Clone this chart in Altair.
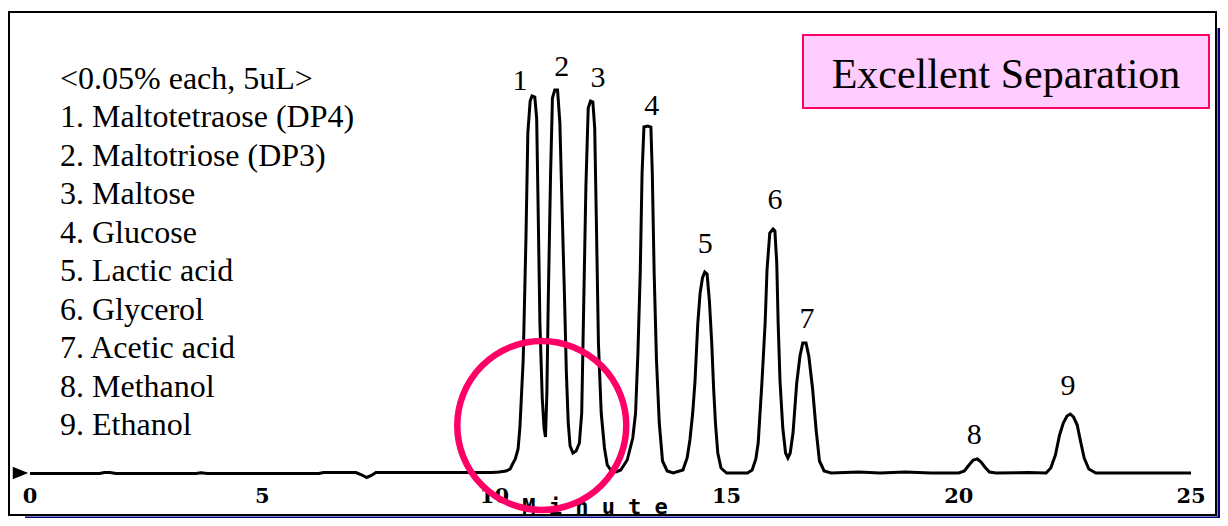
import altair as alt
import pandas as pd

# ---- chromatogram trace (minutes, signal in arbitrary units)
trace_time = [
    0.00, 1.50, 1.60, 1.72, 1.85, 3.58, 3.68, 3.82, 6.22, 6.32, 7.02, 7.15, 7.25, 7.35, 7.45,
    9.95, 10.10, 10.25, 10.34, 10.38,
    10.45, 10.51, 10.55, 10.62, 10.68, 10.72, 10.77, 10.81, 10.87, 10.91, 10.94, 10.98, 11.03, 11.07, 11.10,
    11.13, 11.16, 11.21, 11.25, 11.30, 11.36, 11.41, 11.46, 11.51, 11.55, 11.59, 11.63, 11.69, 11.76, 11.83,
    11.88, 11.92, 11.97, 12.02, 12.07, 12.12, 12.16, 12.20, 12.24, 12.30, 12.37, 12.43, 12.52, 12.62, 12.72,
    12.86, 12.98, 13.04, 13.09, 13.14, 13.18, 13.22, 13.30, 13.37, 13.40, 13.44, 13.49, 13.55, 13.62, 13.72, 13.85,
    14.06, 14.15, 14.21, 14.27, 14.32, 14.38, 14.43, 14.48, 14.53, 14.58, 14.63, 14.68, 14.72, 14.76, 14.81, 14.88, 15.00, 15.45,
    15.55, 15.63, 15.68, 15.76, 15.83, 15.87, 15.93, 16.00, 16.04, 16.08, 16.11, 16.15, 16.21, 16.27, 16.32, 16.37,
    16.43, 16.51, 16.58, 16.64, 16.71, 16.77, 16.85, 16.93, 17.00, 17.10, 17.25,
    17.85, 18.30, 18.85, 19.40, 20.00,
    20.12, 20.22, 20.31, 20.40, 20.48, 20.56, 20.66, 20.80, 21.50, 21.88,
    21.98, 22.08, 22.17, 22.25, 22.33, 22.40, 22.47, 22.55, 22.62, 22.70, 22.80, 22.95, 25.00,
]
trace_signal = [
    -0.5, -0.5, 0.5, 0.5, -0.5, -0.5, 0.3, -0.5, -0.5, 0.5, 0.5, -2.0, -4.5, -2.5, 0.5,
    0.5, 1.0, 2.0, 4.0, 8,
    14, 24, 46, 113, 236, 340, 372, 377, 376, 355, 270, 150, 75, 45, 36,
    80, 173, 300, 375, 383, 383, 350, 260, 175, 100, 50, 27, 20, 22, 30,
    60, 160, 286, 365, 372, 371, 345, 240, 130, 60, 25, 8, 2, 1, 3,
    13, 35, 60, 120, 200, 300, 346, 347, 346, 300, 200, 113, 50, 12, 2, 0,
    3, 15, 33, 60, 92, 150, 180, 195, 201, 199, 172, 130, 85, 50, 20, 5, 0, 0,
    3, 14, 30, 90, 150, 203, 240, 244, 242, 210, 150, 92, 45, 20, 15, 20,
    40, 90, 117, 130, 130, 117, 85, 42, 12, 2, 0,
    1, 0, 1, 0, 0,
    2, 8, 13, 14, 11, 6, 1, 0, 0.5, 0,
    5, 18, 38, 50, 57, 59, 56, 48, 32, 15, 4, 0, 0,
]

# ---- peak number annotations (anchor in data units)
peak_numbers = ["1", "2", "3", "4", "5", "6", "7", "8", "9"]
label_time = [10.55, 11.45, 12.23, 13.39, 14.54, 16.04, 16.73, 20.33, 22.35]
label_signal = [392, 406, 395, 367, 229, 273, 154, 38, 87]

tick_values = [0, 5, 10, 15, 20, 25]

legend_lines = [
    "<0.05% each, 5uL>",
    "1. Maltotetraose (DP4)",
    "2. Maltotriose (DP3)",
    "3. Maltose",
    "4. Glucose",
    "5. Lactic acid",
    "6. Glycerol",
    "7. Acetic acid",
    "8. Methanol",
    "9. Ethanol",
]
box_title = "Excellent Separation"
axis_title = "M i n u t e"

# highlighted region (circle) centre, data units
circle_time = [11.02]
circle_signal = [47.5]
# start-of-run marker
arrow_time = [-0.205]
arrow_signal = [0]

# plot area = the framed box; whole svg kept within 1212 x 510 so the page never overflows
W, H = 1207, 503
PX_PER_MIN = 46.44
X0 = 21          # pixel of t = 0 inside the box
Y0 = 461         # pixel of baseline inside the box
x_scale = alt.Scale(domain=[-X0 / PX_PER_MIN, (W - X0) / PX_PER_MIN], nice=False, zero=False)
y_scale = alt.Scale(domain=[-(H - Y0), Y0], nice=False, zero=False)

one = pd.DataFrame({"k": [0]})
PINK = "#FF0066"
NAVY = "#000080"

trace_df = pd.DataFrame({"t": trace_time, "s": trace_signal})
labels_df = pd.DataFrame({"t": label_time, "s": label_signal, "n": peak_numbers})
ticks_df = pd.DataFrame({"v": tick_values})
circle_df = pd.DataFrame({"t": circle_time, "s": circle_signal})
arrow_df = pd.DataFrame({"t": arrow_time, "s": arrow_signal})

X = lambda f: alt.X(f, scale=x_scale, axis=None)
Y = lambda f: alt.Y(f, scale=y_scale, axis=None)

legend = alt.Chart(one).mark_text(
    text=legend_lines, align="left", baseline="alphabetic", font="Liberation Serif",
    fontSize=32, lineHeight=38.45, color="black"
).encode(x=alt.value(51), y=alt.value(77))

box = alt.Chart(one).mark_rect(fill="#FFCCFF", stroke=PINK, strokeWidth=2).encode(
    x=alt.value(794), x2=alt.value(1200), y=alt.value(23), y2=alt.value(96)
)
box_text = alt.Chart(one).mark_text(
    text=box_title, align="center", baseline="alphabetic", font="Liberation Serif",
    fontSize=42, color="black"
).encode(x=alt.value(997), y=alt.value(76))

line = alt.Chart(trace_df).mark_line(color="black", strokeWidth=3).encode(
    x=X("t:Q"), y=Y("s:Q")
)

arrow = alt.Chart(arrow_df).mark_point(
    shape="M -1 -0.8 L 1 0 L -1 0.8 Z", size=240, filled=True, color="black", opacity=1
).encode(x=X("t:Q"), y=Y("s:Q"))

peak_labels = alt.Chart(labels_df).mark_text(
    font="Liberation Serif", fontSize=30, baseline="middle", align="center", color="black"
).encode(x=X("t:Q"), y=Y("s:Q"), text="n:N")

tick_labels = alt.Chart(ticks_df).mark_text(
    font="DejaVu Serif", fontWeight="bold", fontSize=21, baseline="alphabetic",
    align="center", color="black"
).encode(x=X("v:Q"), y=alt.value(491), text=alt.Text("v:Q", format="d"))

title_text = alt.Chart(one).mark_text(
    text=axis_title, font="DejaVu Sans Mono", fontWeight="bold", fontSize=22,
    baseline="alphabetic", align="center", color="black"
).encode(x=alt.value(586), y=alt.value(501.5))

circle = alt.Chart(circle_df).mark_point(
    shape="circle", size=28561, filled=False, stroke=PINK, strokeWidth=6.5, opacity=1
).encode(x=X("t:Q"), y=Y("s:Q"))

shadow_bottom = alt.Chart(one).mark_rect(fill=NAVY).encode(
    x=alt.value(16), x2=alt.value(W + 4), y=alt.value(H + 1.5), y2=alt.value(H + 6)
)
shadow_right = alt.Chart(one).mark_rect(fill=NAVY).encode(
    x=alt.value(W + 1.5), x2=alt.value(W + 4), y=alt.value(16), y2=alt.value(H + 6)
)
frame = alt.Chart(one).mark_rect(fill=None, stroke="black", strokeWidth=2).encode(
    x=alt.value(0), x2=alt.value(W), y=alt.value(0), y2=alt.value(H)
)

chart = alt.layer(
    legend, box, box_text, line, arrow, peak_labels, tick_labels, title_text,
    circle, shadow_bottom, shadow_right, frame
).properties(
    width=W, height=H,
    padding={"left": 1, "top": 4, "right": 1212 - 1 - W, "bottom": 510 - 4 - H},
    autosize=alt.AutoSizeParams(type="none"),
    background="white",
).configure_view(strokeWidth=0)

chart.save("out.html", embed_options={"renderer": "svg", "actions": False})
